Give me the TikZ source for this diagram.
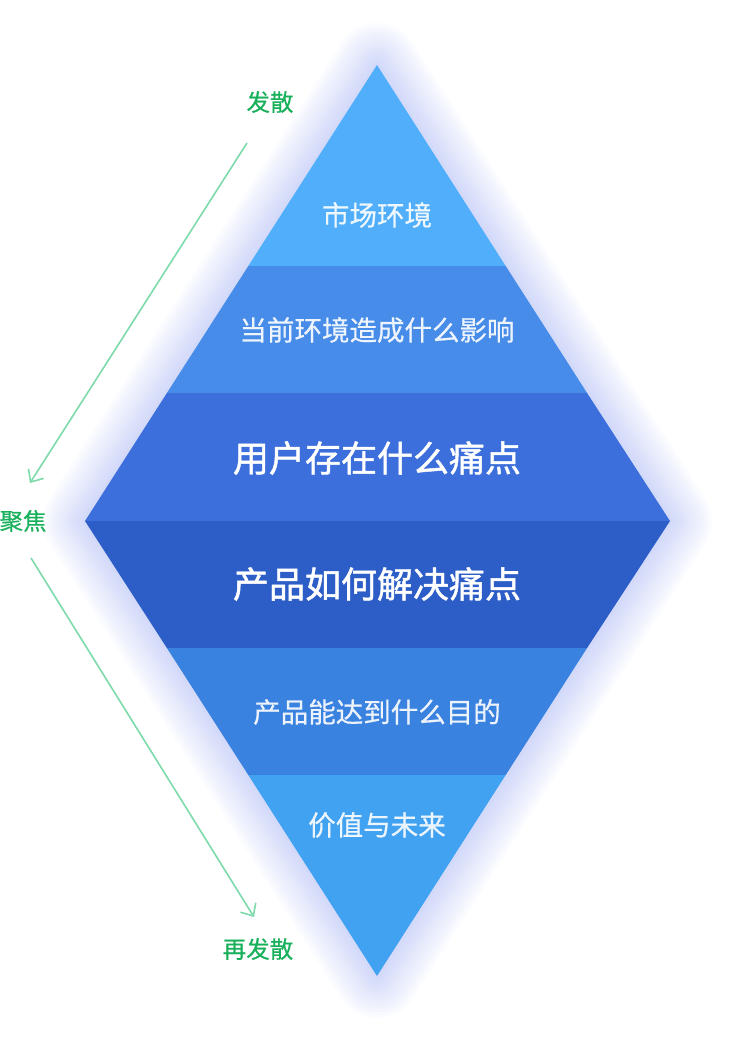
\documentclass[tikz,border=0pt]{standalone}
\usepackage{fontspec}
\setmainfont{Noto Sans CJK SC}
\newfontfamily\medfont[FakeBold=1.3]{Noto Sans CJK SC}
\newfontfamily\semifont[FakeBold=0.5]{Noto Sans CJK SC}
\usetikzlibrary{arrows.meta}
\definecolor{bandA}{RGB}{80,174,250}
\definecolor{bandB}{RGB}{70,140,232}
\definecolor{bandC}{RGB}{60,111,220}
\definecolor{bandD}{RGB}{45,94,200}
\definecolor{bandE}{RGB}{58,130,224}
\definecolor{bandF}{RGB}{66,162,242}
\definecolor{glow}{RGB}{100,125,235}
\definecolor{lbl}{RGB}{24,176,90}
\definecolor{arr}{RGB}{125,218,170}
\tikzset{
  bandtxt/.style={text=white, text opacity=0.9, font=\semifont\fontsize{27.5}{27.5}\selectfont, inner sep=0},
  bigtxt/.style={text=white, font=\medfont\fontsize{36}{36}\selectfont, inner sep=0},
  sidelbl/.style={text=lbl, font=\semifont\fontsize{23.5}{23.5}\selectfont, inner sep=0},
  flowarrow/.style={draw=arr, line width=1.6pt, -{Straight Barb[length=10pt,width=18pt,line width=1.6pt]}}
}
\begin{document}
\begin{tikzpicture}[x=1pt,y=-1pt]
\useasboundingbox (0,0) rectangle (740,1042);
% diamond corners
\coordinate (T) at (377,65);
\coordinate (L) at (85,521);
\coordinate (R) at (670,521);
\coordinate (B) at (377,976);
% glow
\foreach \w in {84,78,...,6}{
  \draw[draw=glow, draw opacity=0.022, line width=\w pt, line join=round] (T) -- (R) -- (B) -- (L) -- cycle;
}
% band boundaries
\fill[bandA] (T) -- (505.7,266) -- (248.3,266) -- cycle;
\fill[bandB] (248.3,266) -- (505.7,266) -- (587.1,393) -- (166.9,393) -- cycle;
\fill[bandC] (166.9,393) -- (587.1,393) -- (R) -- (L) -- cycle;
\fill[bandD] (L) -- (R) -- (587.1,648) -- (166.9,648) -- cycle;
\fill[bandE] (166.9,648) -- (587.1,648) -- (505.7,775) -- (248.3,775) -- cycle;
\fill[bandF] (248.3,775) -- (505.7,775) -- (B) -- cycle;
% texts
\node[bandtxt] (t1) at (377,215) {市场环境};
\node[bandtxt] (t2) at (377,330) {当前环境造成什么影响};
\node[bigtxt] (t3) at (377,458) {用户存在什么痛点};
\node[bigtxt] (t4) at (377,584) {产品如何解决痛点};
\node[bandtxt] (t5) at (377,712) {产品能达到什么目的};
\node[bandtxt] (t6) at (377,825) {价值与未来};
% side labels
\node[sidelbl] (s1) at (270,102) {发散};
\node[sidelbl] (s2) at (23,521) {聚焦};
\node[sidelbl] (s3) at (258,949) {再发散};
\coordinate (a1s) at (247,143);
\coordinate (a1e) at (30,483);
\coordinate (a2s) at (31,558);
\coordinate (a2e) at (254,917);
\draw[flowarrow] (a1s) -- (a1e);
\draw[flowarrow] (a2s) -- (a2e);
\end{tikzpicture}
\end{document}
